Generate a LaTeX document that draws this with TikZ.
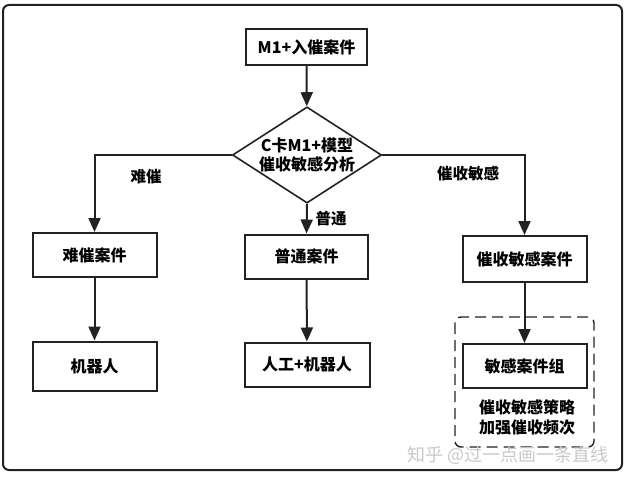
\documentclass[tikz,border=0pt]{standalone}
\usepackage{fontspec}
\setmainfont{Noto Sans CJK SC}
\usepackage{xcolor}
\usepackage{tikz}
\usetikzlibrary{arrows.meta,positioning,shapes.geometric}
\definecolor{lineGray}{HTML}{222222}
\definecolor{markGray}{HTML}{C8C8C8}
\begin{document}
\begin{tikzpicture}[x=1pt,y=-1pt,font=\fontsize{16}{19}\selectfont\bfseries,
  >={Triangle[length=14pt,width=12pt]},
  box/.style={draw=lineGray,line width=2pt,fill=white,minimum width=124pt,minimum height=44pt,inner sep=0pt},
  test/.style={draw=lineGray,line width=1.6pt,diamond,aspect=1.55,minimum width=148pt,minimum height=96pt,inner sep=0pt,align=center},
  flow/.style={->,draw=lineGray,line width=2pt},
  lbl/.style={font=\fontsize{15.5}{17}\selectfont\bfseries}]
\useasboundingbox (0,0) rectangle (628,476);
\draw[lineGray,line width=2pt,rounded corners=6pt] (3,5) rectangle (622,470);
% entry and model check
\node[box,minimum width=121pt,minimum height=36pt] (entry) at (306.5,47) {M1+入催案件};
\node[test] (check) at (307,155) {C卡M1+模型\\催收敏感分析};
% three branches
\node[box] (hard) at (94.5,255) {难催案件};
\node[box,minimum height=49pt] (robot) at (94.5,366) {机器人};
\node[box,minimum width=123pt] (plain) at (306.5,256.5) {普通案件};
\node[box,minimum width=125pt] (mixed) at (307,364.5) {人工+机器人};
\node[box,minimum height=46pt] (sens) at (524.5,259) {催收敏感案件};
\draw[lineGray,line width=1.4pt,dash pattern=on 11pt off 6pt,rounded corners=6pt] (455,317) rectangle (594,447);
\node[box] (group) at (524.5,366) {敏感案件组};
\node[align=center,font=\fontsize{16}{20}\selectfont\bfseries] (plan) at (527,417) {催收敏感策略\\加强催收频次};
% branch labels
\node[lbl] (hardlbl) at (146,177) {难催};
\node[lbl] (plainlbl) at (331,219) {普通};
\node[lbl] (senslbl) at (468,174) {催收敏感};
\draw[flow] (entry) -- (check);
\draw[flow] (check.west) -| (hard.north);
\draw[flow] (check.south) -- (plain.north);
\draw[flow] (check.east) -| (sens.north);
\draw[flow] (hard) -- (robot);
\draw[flow] (plain) -- (mixed);
\draw[flow] (sens) -- (group);
\node[markGray,font=\fontsize{18}{20}\selectfont,anchor=east] (mark) at (612,455) {知乎 @过一点画一条直线};
\end{tikzpicture}
\end{document}
